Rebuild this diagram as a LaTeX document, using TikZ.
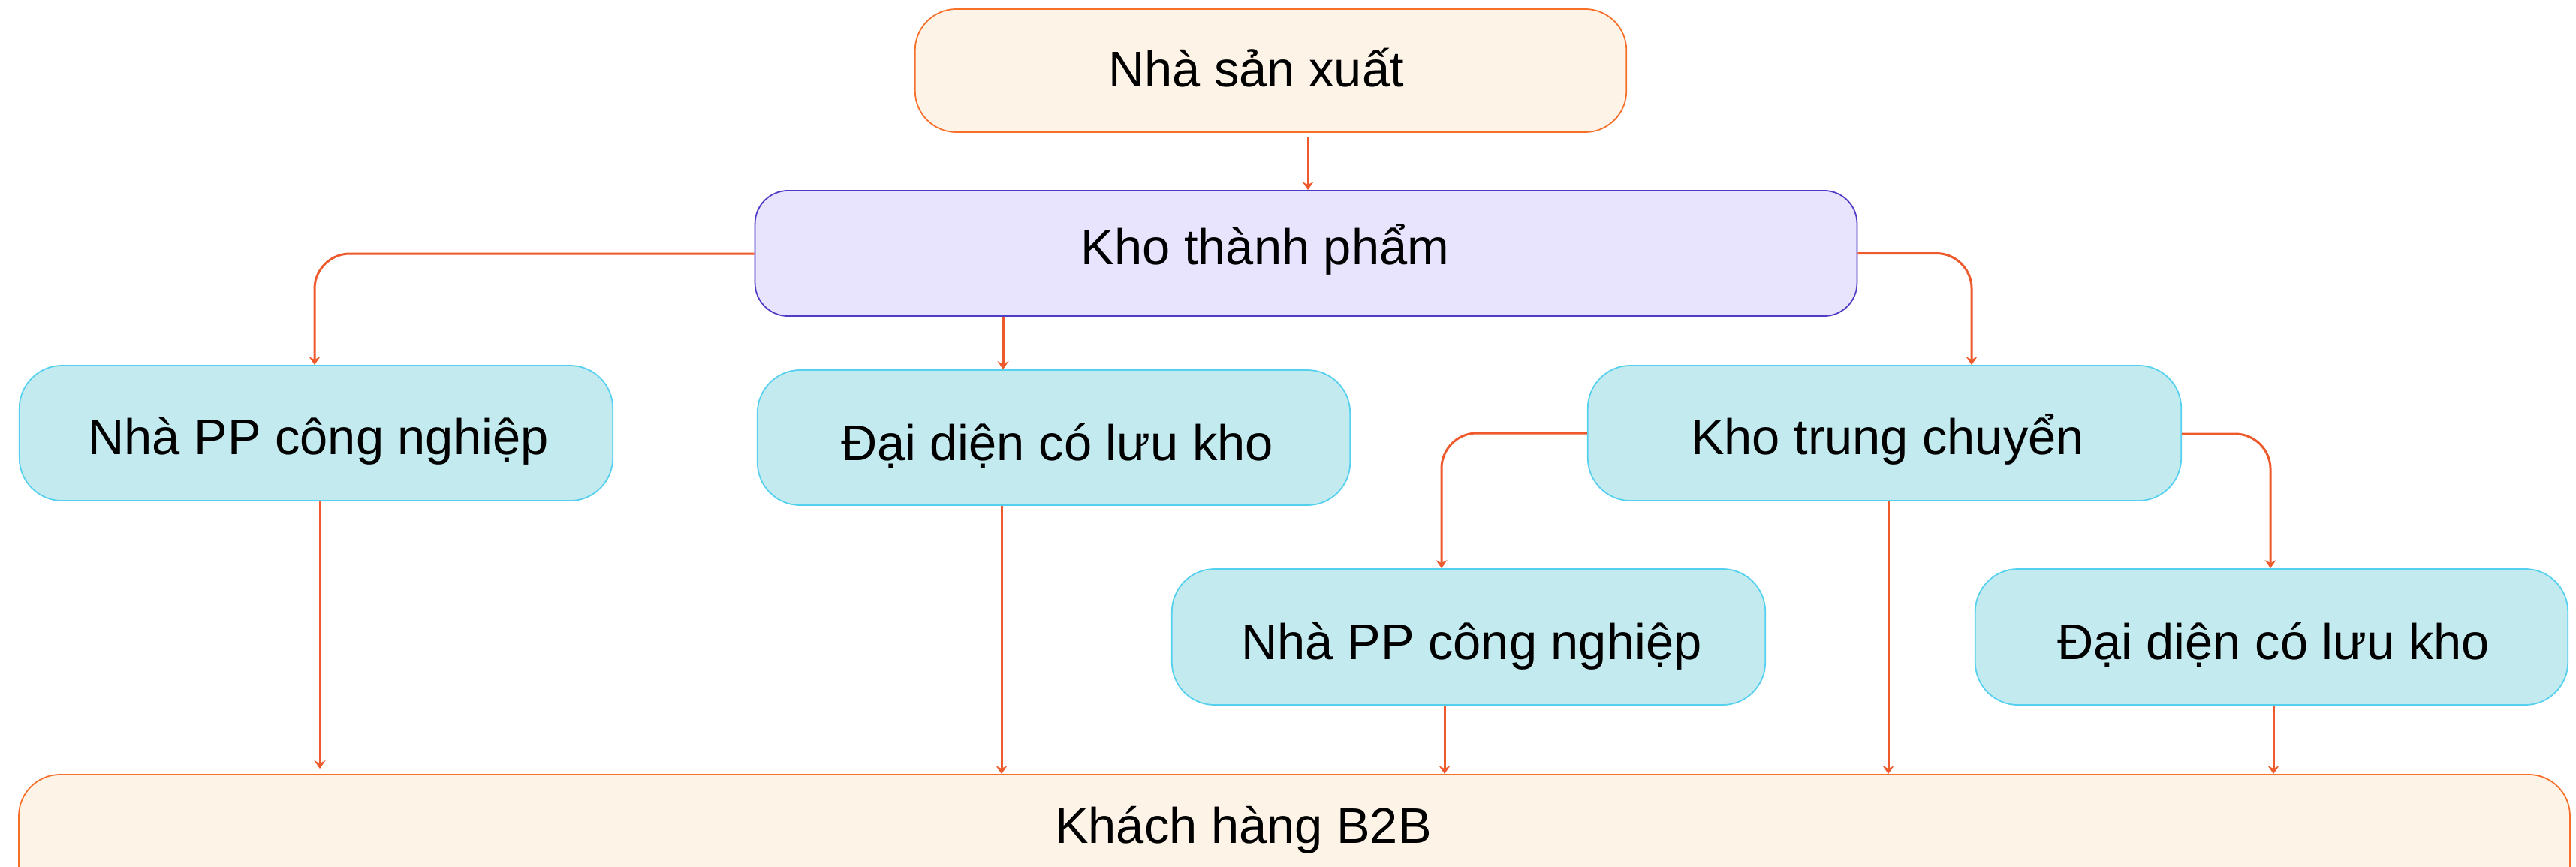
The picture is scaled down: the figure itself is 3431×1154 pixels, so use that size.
\documentclass[tikz,border=0pt]{standalone}
\usepackage{fontspec}
\setmainfont{Liberation Sans}
\usetikzlibrary{arrows.meta,calc}
\definecolor{arr}{HTML}{EE5A2C}
\definecolor{peachfill}{HTML}{FEF3E7}
\definecolor{peachline}{HTML}{F7702A}
\definecolor{lavfill}{HTML}{E8E4FD}
\definecolor{lavline}{HTML}{4E3CC6}
\definecolor{cyanfill}{HTML}{C3EAEF}
\definecolor{cyanline}{HTML}{55D0EE}
\tikzset{
  boxbase/.style={draw, rectangle, inner sep=0pt, line width=0.5pt},
  peachbox/.style={boxbase, fill=peachfill, draw=peachline, rounded corners=0.55cm},
  lavbox/.style={boxbase, fill=lavfill, draw=lavline, rounded corners=0.44cm},
  cyanbox/.style={boxbase, fill=cyanfill, draw=cyanline, rounded corners=0.57cm},
  lbl/.style={anchor=base, inner sep=0pt, font=\fontsize{19}{23}\selectfont},
  conn/.style={draw=arr, line width=0.85pt, rounded corners=0.47cm,
    -{Stealth[length=0.11cm, width=0.15cm, inset=0.04cm]}},
}
\begin{document}
\begin{tikzpicture}[x=0.01cm,y=-0.01cm]
\clip (0,0) rectangle (3431,1154);
\fill[white] (0,0) rectangle (3431,1154);

% boxes
\node[peachbox, minimum width=9.47cm, minimum height=1.64cm] (prod) at (1692.5,94) {};
\node[lavbox, minimum width=14.67cm, minimum height=1.67cm] (kho) at (1739.5,337.5) {};
\node[cyanbox, minimum width=7.90cm, minimum height=1.80cm] (ppL) at (421,577) {};
\node[cyanbox, minimum width=7.89cm, minimum height=1.80cm] (ddL) at (1403.5,583) {};
\node[cyanbox, minimum width=7.90cm, minimum height=1.80cm] (ktc) at (2510,577) {};
\node[cyanbox, minimum width=7.90cm, minimum height=1.81cm] (pp2) at (1956,848.5) {};
\node[cyanbox, minimum width=7.89cm, minimum height=1.81cm] (dd2) at (3025.5,848.5) {};
\node[peachbox, minimum width=33.96cm, minimum height=1.80cm] (b2b) at (1724,1122) {};

% labels
\node[lbl] (prodt) at (1673,115) {Nhà sản xuất};
\node[lbl] (khot) at (1685,352) {Kho thành phẩm};
\node[lbl] (ppLt) at (424,605) {Nhà PP công nghiệp};
\node[lbl] (ddLt) at (1408,613) {Đại diện có lưu kho};
\node[lbl] (ktct) at (2514,605) {Kho trung chuyển};
\node[lbl] (pp2t) at (1960,878) {Nhà PP công nghiệp};
\node[lbl] (dd2t) at (3028,878) {Đại diện có lưu kho};
\node[lbl] (b2bt) at (1656,1123) {Khách hàng B2B};

% connector columns
\coordinate (cA) at (1742,0);
\coordinate (cL) at (419,0);
\coordinate (cD) at (1336,0);
\coordinate (cR) at (2626,0);
\coordinate (cP) at (1920,0);
\coordinate (cQ) at (3024,0);
\coordinate (oL) at (426,0);
\coordinate (oD) at (1334,0);
\coordinate (oP) at (1924,0);
\coordinate (oK) at (2515,0);
\coordinate (oQ) at (3028,0);

% connectors
\draw[conn] ($(cA |- prod.south)+(0,5)$) -- (cA |- kho.north);
\draw[conn] ($(kho.west)+(0,0.5)$) -| (cL |- ppL.north);
\draw[conn] (cD |- kho.south) -- (cD |- ddL.north);
\draw[conn] (kho.east) -| (cR |- ktc.north);
\draw[conn] (ktc.west) -| (cP |- pp2.north);
\draw[conn] ($(ktc.east)+(0,1)$) -| (cQ |- dd2.north);
\draw[conn] (oL |- ppL.south) -- ($(oL |- b2b.north)+(0,-7)$);
\draw[conn] (oD |- ddL.south) -- (oD |- b2b.north);
\draw[conn] (oP |- pp2.south) -- (oP |- b2b.north);
\draw[conn] (oK |- ktc.south) -- (oK |- b2b.north);
\draw[conn] (oQ |- dd2.south) -- (oQ |- b2b.north);
\end{tikzpicture}
\end{document}
